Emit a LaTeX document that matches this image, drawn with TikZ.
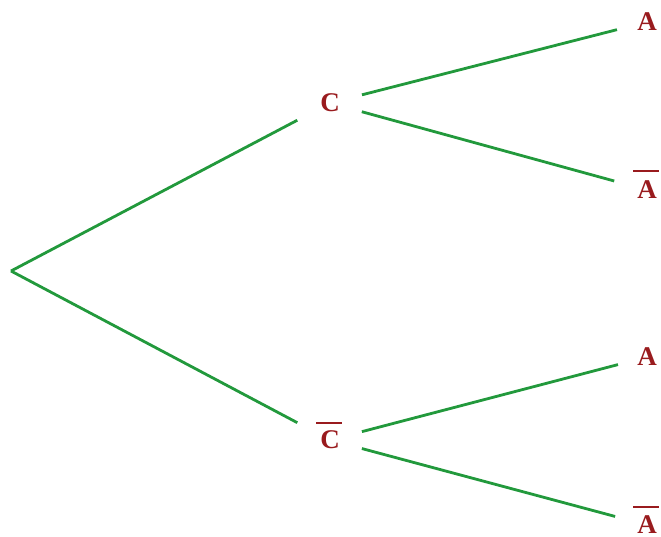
\documentclass[tikz,border=0pt]{standalone}
\usepackage{fontspec}
\setmainfont{Liberation Serif}
\definecolor{letred}{HTML}{991B1E}
\definecolor{branch}{HTML}{22993C}
\begin{document}
\begin{tikzpicture}[x=1pt,y=-1pt,
  lbl/.style={inner sep=0pt,text=letred,font=\fontsize{27}{27}\selectfont\bfseries},
  edge/.style={draw=branch,line width=2.8pt},
  barline/.style={draw=letred,line width=1.6pt}]
\useasboundingbox (0,0) rectangle (661,537);
\coordinate (root) at (11,271);
\node[lbl] (C) at (330,103) {C};
\node[lbl] (Cb) at (330,440) {C};
\node[lbl] (A1) at (647,22) {A};
\node[lbl] (A1b) at (647,190) {A};
\node[lbl] (A2) at (647,357) {A};
\node[lbl] (A2b) at (647,525) {A};
% bars
\draw[barline] ([xshift=-4pt,yshift=8pt]Cb.north west) -- ([xshift=2pt,yshift=8pt]Cb.north east);
\draw[barline] ([xshift=-4pt,yshift=10pt]A1b.north west) -- ([xshift=2pt,yshift=10pt]A1b.north east);
\draw[barline] ([xshift=-4pt,yshift=9pt]A2b.north west) -- ([xshift=2pt,yshift=9pt]A2b.north east);
% branches
\draw[edge,shorten >=37pt] (root) -- (C.center);
\draw[edge,shorten >=37pt] (root) -- (Cb.center);
\draw[edge,shorten <=33pt,shorten >=31pt] (C.center) -- (A1.center);
\draw[edge,shorten <=33pt,shorten >=34pt] (C.center) -- (A1b.center);
\draw[edge,shorten <=33pt,shorten >=30pt] (Cb.center) -- (A2.center);
\draw[edge,shorten <=33pt,shorten >=33pt] (Cb.center) -- (A2b.center);
\end{tikzpicture}
\end{document}
